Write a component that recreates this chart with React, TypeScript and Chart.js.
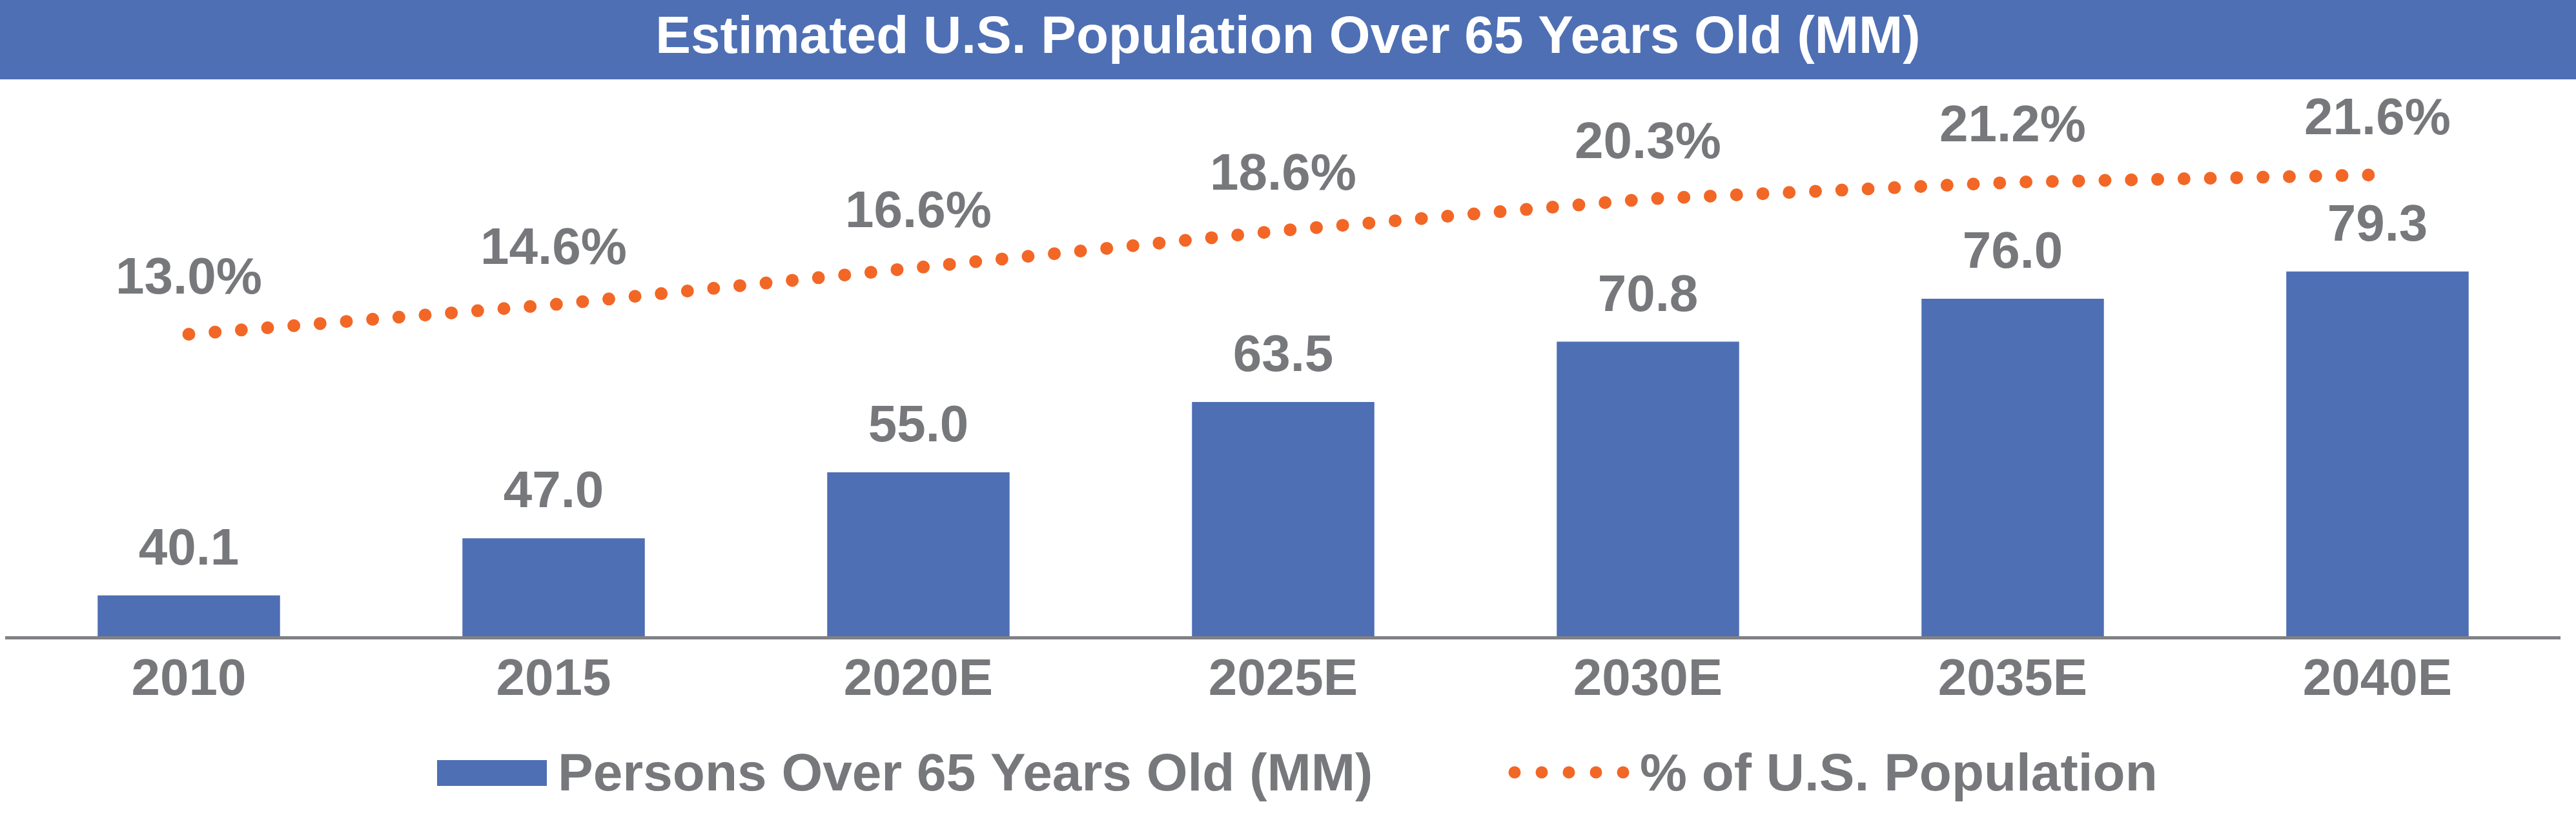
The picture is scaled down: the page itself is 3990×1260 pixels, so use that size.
import React, { useEffect, useRef } from 'react';
import { Chart, registerables } from 'chart.js';

Chart.register(...registerables);

// ---- Data ----
const categories = ['2010', '2015', '2020E', '2025E', '2030E', '2035E', '2040E'];
const personsOver65 = [40.1, 47.0, 55.0, 63.5, 70.8, 76.0, 79.3];
const pctOfPopulation = [13.0, 14.6, 16.6, 18.6, 20.3, 21.2, 21.6];
const titleText = 'Estimated U.S. Population Over 65 Years Old (MM)';
const barLabel = 'Persons Over 65 Years Old (MM)';
const lineLabel = '% of U.S. Population';

// ---- Styles ----
const BLUE = '#4E6FB4';
const ORANGE = '#F26726';
const GREY = '#77787B';
const AXIS_GREY = '#808184';
const FONT = '"Liberation Sans", Arial, Helvetica, sans-serif';
const W = 3990;
const H = 1260;

const decorPlugin = {
  id: 'decor',
  beforeDraw(chart: any) {
    const ctx = chart.ctx;
    ctx.save();
    ctx.fillStyle = BLUE;
    ctx.fillRect(0, 0, chart.width, 123);
    ctx.fillStyle = '#FFFFFF';
    ctx.font = `bold 82px ${FONT}`;
    ctx.textAlign = 'center';
    ctx.textBaseline = 'alphabetic';
    ctx.fillText(titleText, 1995, 82);
    ctx.restore();
  },
  afterDatasetsDraw(chart: any) {
    const ctx = chart.ctx;
    ctx.save();
    ctx.fillStyle = GREY;
    ctx.font = `bold 80px ${FONT}`;
    ctx.textAlign = 'center';
    ctx.textBaseline = 'alphabetic';
    chart.data.datasets.forEach((ds: any, di: number) => {
      const meta = chart.getDatasetMeta(di);
      meta.data.forEach((el: any, i: number) => {
        const v = ds.data[i] as number;
        if (ds.type === 'line') {
          ctx.fillText(v.toFixed(1) + '%', el.x, el.y - 63);
        } else {
          ctx.fillText(v.toFixed(1), el.x, el.y - 48);
        }
      });
    });
    ctx.restore();
  },
  afterDraw(chart: any) {
    const ctx = chart.ctx;
    const dsBar = chart.data.datasets[0];
    const dsLine = chart.data.datasets[1];
    ctx.save();
    // bar legend item
    ctx.fillStyle = BLUE;
    ctx.fillRect(677, 1178, 170, 40);
    ctx.fillStyle = GREY;
    ctx.font = `bold 82px ${FONT}`;
    ctx.textAlign = 'left';
    ctx.textBaseline = 'alphabetic';
    ctx.fillText(dsBar.label, 864, 1225);
    // line legend item (dotted)
    ctx.fillStyle = ORANGE;
    for (let i = 0; i < 5; i++) {
      ctx.beginPath();
      ctx.ellipse(2346 + i * 42, 1197, 9.5, 9.5, 0, 0, Math.PI * 2);
      ctx.fill();
    }
    ctx.fillStyle = GREY;
    ctx.fillText(dsLine.label, 2540, 1225);
    ctx.restore();
  },
};

export default function App() {
  const canvasRef = useRef<HTMLCanvasElement | null>(null);

  useEffect(() => {
    document.body.style.margin = '0';
    document.body.style.overflow = 'hidden';
    const canvas = canvasRef.current;
    if (!canvas) return;
    const chart = new Chart(canvas, {
      type: 'bar',
      data: {
        labels: categories,
        datasets: [
          {
            type: 'bar',
            label: barLabel,
            data: personsOver65,
            backgroundColor: BLUE,
            borderWidth: 0,
            barPercentage: 0.5,
            categoryPercentage: 1,
            yAxisID: 'y',
            order: 2,
          } as any,
          {
            type: 'line',
            label: lineLabel,
            data: pctOfPopulation,
            borderColor: ORANGE,
            backgroundColor: ORANGE,
            borderWidth: 20,
            borderDash: [0, 40.8],
            borderCapStyle: 'round',
            pointRadius: 0,
            pointHoverRadius: 0,
            tension: 0,
            fill: false,
            yAxisID: 'y2',
            order: 1,
          } as any,
        ],
      },
      options: {
        responsive: false,
        maintainAspectRatio: false,
        animation: false,
        devicePixelRatio: 1,
        layout: { padding: { left: 10, right: 25, top: 140, bottom: 0 } },
        plugins: {
          legend: { display: false },
          title: { display: false },
          tooltip: { enabled: false },
        },
        scales: {
          x: {
            grid: { display: false, drawTicks: false },
            border: { display: true, color: AXIS_GREY, width: 5, z: 1 },
            ticks: {
              color: GREY,
              font: { family: FONT, size: 80, weight: 'bold' },
              padding: 19,
              maxRotation: 0,
              autoSkip: false,
            },
            afterFit: (s: any) => {
              s.height = H - 988;
            },
          },
          y: { display: false, min: 35, max: 101.22 },
          y2: { display: false, position: 'right', min: -3.365, max: 26.16 },
        },
      } as any,
      plugins: [decorPlugin],
    });
    return () => chart.destroy();
  }, []);

  return (
    <div style={{ width: W, height: H, background: '#FFFFFF' }}>
      <canvas ref={canvasRef} width={W} height={H} style={{ display: 'block' }} />
    </div>
  );
}
